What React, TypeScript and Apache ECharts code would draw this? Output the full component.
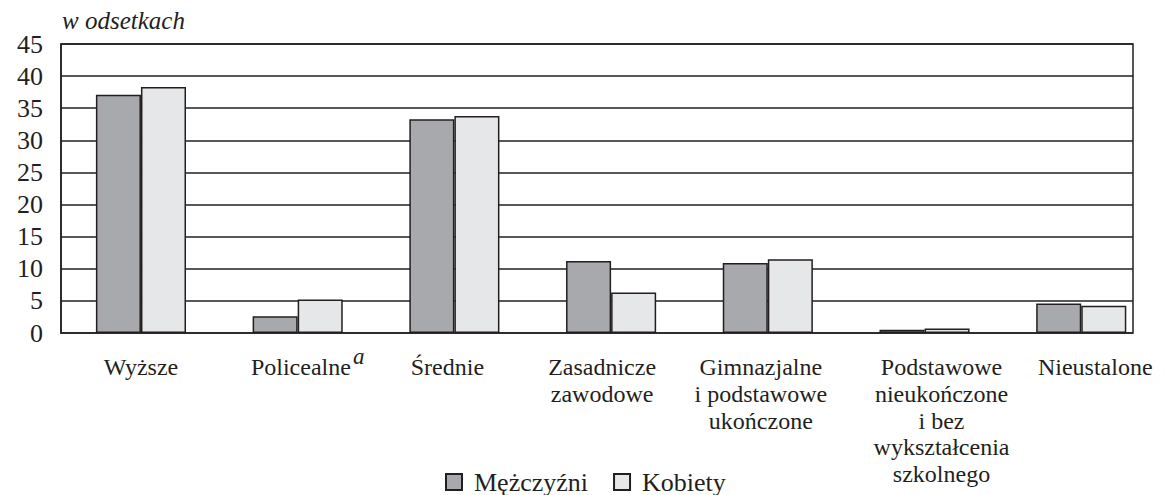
import React, { useEffect, useRef } from "react";
import * as echarts from "echarts";

const categories = [
  "Wyższe",
  "Policealne{sup|a}",
  "Średnie",
  "Zasadnicze\nzawodowe",
  "Gimnazjalne\ni podstawowe\nukończone",
  "Podstawowe\nnieukończone\ni bez\nwykształcenia\nszkolnego",
  "Nieustalone",
];
const labelShift = [0, 10, -7, -9, -7, 17, 14];
const men = [37.1, 2.6, 33.3, 11.2, 10.9, 0.5, 4.6];
const women = [38.3, 5.2, 33.8, 6.3, 11.5, 0.7, 4.25];
const seriesNames = ["Mężczyźni", "Kobiety"];
const unitLabel = "w odsetkach";

const FONT = "Liberation Serif";
const INK = "#231f20";

export default function App() {
  const ref = useRef<HTMLDivElement>(null);
  useEffect(() => {
    document.body.style.margin = "0";
    const chart = echarts.init(ref.current!, undefined, { renderer: "svg" });
    const catData = categories.map((c, i) => ({
      value: c,
      textStyle: {
        padding:
          labelShift[i] >= 0
            ? [0, 0, 0, 2 * labelShift[i]]
            : [0, -2 * labelShift[i], 0, 0],
      },
    }));
    chart.setOption({
      animation: false,
      grid: [
        {
          left: 61,
          right: 34,
          top: 44,
          bottom: 162,
          show: true,
          borderColor: INK,
          borderWidth: 1.5,
        },
        {
          left: 62.6,
          right: 7.4,
          top: 44,
          bottom: 162,
        },
      ],
      graphic: [
        {
          type: "text",
          left: 62,
          top: 8,
          style: {
            text: unitLabel,
            fontFamily: FONT,
            fontStyle: "italic",
            fontSize: 25,
            fill: INK,
          },
        },
      ],
      legend: {
        data: seriesNames,
        left: 440,
        top: 464,
        itemWidth: 16,
        itemHeight: 16,
        itemGap: 25,
        icon: "rect",
        textStyle: { fontFamily: FONT, fontSize: 26, color: INK, padding: [0, 0, 0, 7] },
      },
      xAxis: [
        {
          gridIndex: 0,
          type: "value",
          show: false,
          min: 0,
          max: 1,
        },
        {
          gridIndex: 1,
          type: "category",
          data: catData,
          axisLine: { show: false },
          axisTick: { show: false },
          axisLabel: {
            interval: 0,
            margin: 21,
            fontFamily: FONT,
            fontSize: 24,
            lineHeight: 26.6,
            color: INK,
            align: "center",
            rich: {
              sup: {
                fontFamily: FONT,
                fontStyle: "italic",
                fontSize: 23,
                height: 4,
                lineHeight: 4,
                verticalAlign: "top",
                padding: [0, 0, 0, 2],
                color: INK,
              },
            },
          },
        },
      ],
      yAxis: [
        {
          gridIndex: 0,
          type: "value",
          min: 0,
          max: 45,
          interval: 5,
          axisLine: { show: true, lineStyle: { color: INK, width: 1.5 } },
          axisTick: { show: false },
          axisLabel: { margin: 18, fontFamily: FONT, fontSize: 26, color: INK },
          splitLine: { show: true, lineStyle: { color: INK, width: 1.5 } },
        },
        {
          gridIndex: 1,
          type: "value",
          min: 0,
          max: 45,
          interval: 5,
          show: false,
        },
      ],
      series: [
        {
          name: seriesNames[0],
          type: "bar",
          xAxisIndex: 1,
          yAxisIndex: 1,
          data: men,
          barGap: "0%",
          barCategoryGap: "42.5%",
          itemStyle: { color: "#a8a9ac", borderColor: INK, borderWidth: 1.5 },
        },
        {
          name: seriesNames[1],
          type: "bar",
          xAxisIndex: 1,
          yAxisIndex: 1,
          data: women,
          barGap: "0%",
          barCategoryGap: "42.5%",
          itemStyle: { color: "#e6e7e8", borderColor: INK, borderWidth: 1.5 },
        },
      ],
    });
    return () => chart.dispose();
  }, []);
  return <div ref={ref} style={{ width: 1167, height: 495 }} />;
}
